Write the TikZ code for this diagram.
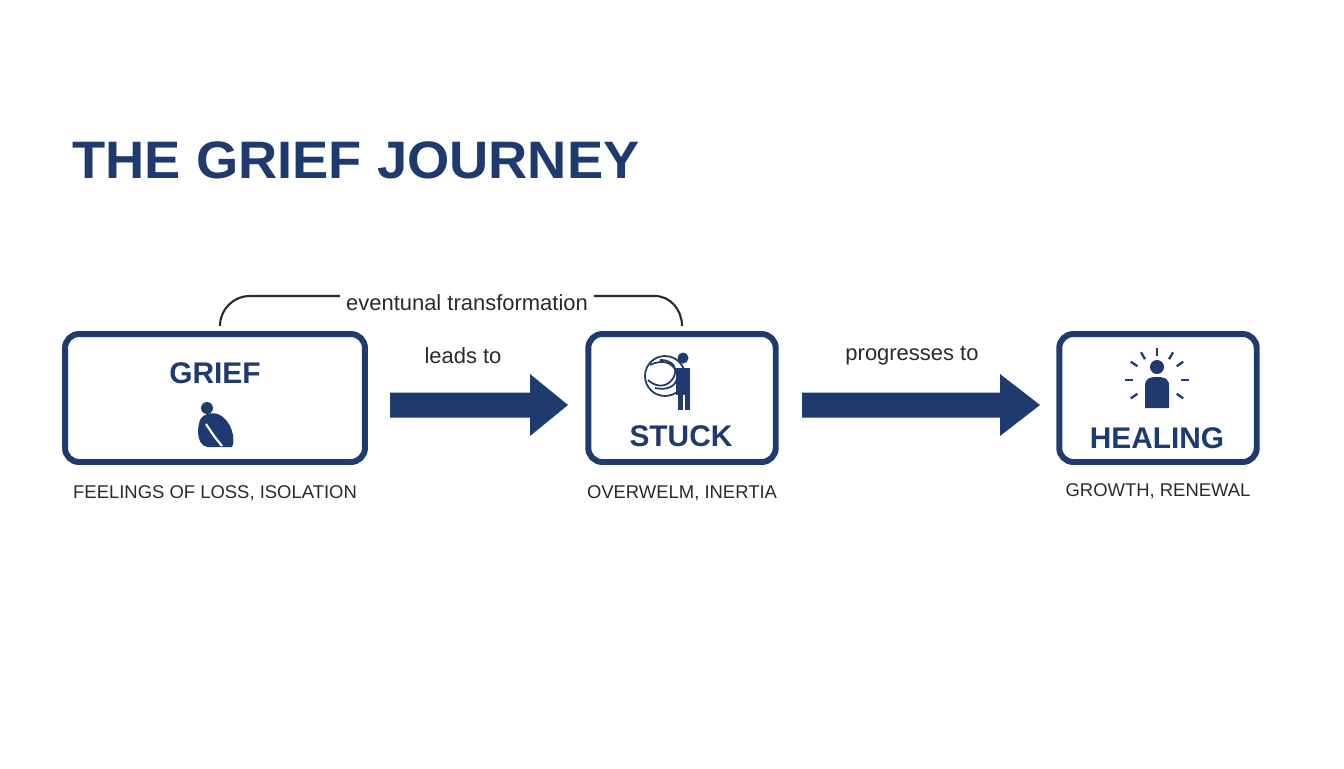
\documentclass[tikz,border=0pt]{standalone}
\usepackage{fontspec}
\setmainfont{Liberation Sans}
\usetikzlibrary{positioning,calc}
\definecolor{navy}{HTML}{1E3A6E}
\definecolor{ink}{HTML}{2A2A2A}
\tikzset{
  stage/.style={draw=navy,line width=3.4pt,rounded corners=8pt,minimum height=2.56cm},
  stagename/.style={text=navy,font=\bfseries\fontsize{17}{17}\selectfont},
  caption/.style={text=ink,font=\fontsize{10.5}{12}\selectfont},
  flow/.style={text=ink,font=\fontsize{12.5}{14}\selectfont},
  icon/.style={fill=navy,draw=none}
}
\newcommand{\blockarrow}[3]{% start, end, head length (px)
  \fill[navy] (#1) ++(0,-12.5) -- ($(#2)+(-#3,-12.5)$) -- ($(#2)+(-#3,-31)$) -- (#2)
    -- ($(#2)+(-#3,31)$) -- ($(#2)+(-#3,12.5)$) -- ($(#1)+(0,12.5)$) -- cycle;}
\begin{document}
\begin{tikzpicture}[x=0.02cm,y=-0.02cm]
\useasboundingbox (0,0) rectangle (1344,768);
% title
\node[anchor=west,text=navy,font=\bfseries\fontsize{30}{30}\selectfont,xscale=1.03] (title) at (66,160) {THE GRIEF JOURNEY};

% the three stages
\node[stage,minimum width=6.0cm] (grief) at (215,398) {};
\node[stage,minimum width=3.75cm] (stuck) at (682,398) {};
\node[stage,minimum width=3.95cm] (healing) at (1158,398) {};

\node[stagename] (griefname) at (215,373) {GRIEF};
\node[stagename] (stuckname) at (681,436) {STUCK};
\node[stagename] (healingname) at (1157,438) {HEALING};

\node[caption,below=0.28cm of grief] (griefcap) {FEELINGS OF LOSS, ISOLATION};
\node[caption,below=0.28cm of stuck] (stuckcap) {OVERWELM, INERTIA};
\node[caption,below=0.24cm of healing] (healingcap) {GROWTH, RENEWAL};

% arrows
\coordinate (a1s) at (390,405); \coordinate (a1e) at (568,405);
\coordinate (a2s) at (802,405); \coordinate (a2e) at (1040,405);
\blockarrow{a1s}{a1e}{38}
\blockarrow{a2s}{a2e}{40}
\node[flow] (leads) at (463,356) {leads to};
\node[flow] (progress) at (912,356) {progresses to};

% bracket
\node[flow] (transform) at (467,303) {eventunal transformation};
\coordinate (bl) at (220,326); \coordinate (br) at (682,326);
\draw[ink,line width=1.2pt] (bl) to[out=90,in=180] (250,296) -- (transform.west |- 0,296);
\draw[ink,line width=1.2pt] (transform.east |- 0,296) -- (655,296) to[out=0,in=90] (br);

% icons
\fill[navy] (207,408) circle (6);
\fill[navy] (200,420) .. controls (196,432) and (198,446) .. (208,447)
  -- (232,447) .. controls (236,440) and (232,420) .. (218,414)
  .. controls (210,412) and (203,414) .. (200,420) -- cycle;
\draw[white,line width=1.2pt] (206,424) -- (214,436) -- (222,446);
\begin{scope}[navy,line width=1pt]
  \draw (665,376) circle (20);
  \draw (650,365) .. controls (680,350) and (690,395) .. (655,388);
  \draw (648,380) .. controls (670,400) and (690,360) .. (660,360);
  \fill (683,358) circle (5.5);
  \fill (676,368) rectangle (690,395);
  \fill (678,395) rectangle (683,410);
  \fill (685,395) rectangle (690,410);
\end{scope}
\fill[navy] (1157,367) circle (7);
\fill[navy] (1145,408) -- (1145,386) .. controls (1145,378) and (1150,377) .. (1157,377)
  .. controls (1164,377) and (1169,378) .. (1169,386) -- (1169,408) -- cycle;
\foreach \a in {0,35,-35,145,180,215,90,60,120}
  \draw[navy,line width=1.3pt] ($(1157,380)+(\a:-24)$) -- ($(1157,380)+(\a:-32)$);
\end{tikzpicture}
\end{document}
